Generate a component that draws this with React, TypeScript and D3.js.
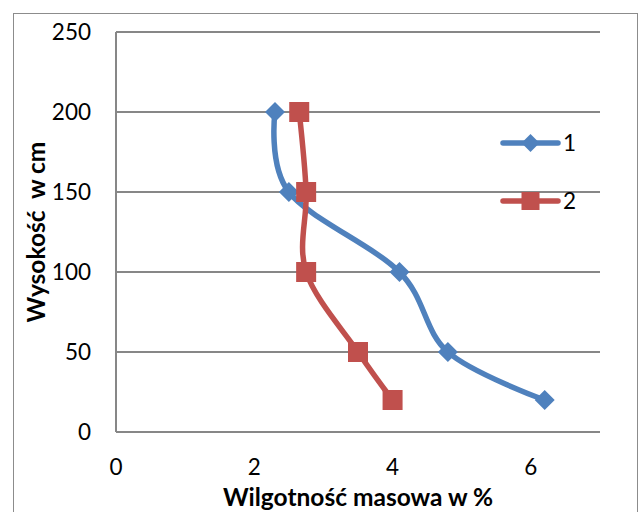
import React from "react";
import * as d3 from "d3";

const heights = [200, 150, 100, 50, 20];
const series1 = [2.3, 2.5, 4.1, 4.8, 6.2];
const series2 = [2.65, 2.75, 2.75, 3.5, 4.0];
const seriesNames = ["1", "2"];
const xTicks = [0, 2, 4, 6];
const yTicks = [0, 50, 100, 150, 200, 250];

const W = 641, H = 512;
const FONT = "Lato, 'Open Sans', sans-serif";
const BLUE = "#4F81BD";
const RED = "#C0504D";
const GRID = "#878787";

export default function App() {
  const x = d3.scaleLinear().domain([0, 7]).range([116, 600]);
  const y = d3.scaleLinear().domain([0, 250]).range([432, 32]);
  const line = d3
    .line<[number, number]>()
    .x((d) => x(d[0]))
    .y((d) => y(d[1]))
    .curve(d3.curveCardinal.tension(0));
  const s1: [number, number][] = series1.map((v, i) => [v, heights[i]]);
  const s2: [number, number][] = series2.map((v, i) => [v, heights[i]]);
  const diamond = (cx: number, cy: number, r: number) =>
    `M${cx},${cy - r}L${cx + r},${cy}L${cx},${cy + r}L${cx - r},${cy}Z`;

  return (
    <svg
      width={W}
      height={H}
      style={{ position: "absolute", left: 0, top: 0, background: "#fff" }}
      fontFamily={FONT}
    >
      <rect x={13.5} y={13.5} width={624} height={520} fill="#fff" stroke="#8c8c8c" strokeWidth={1} />
      {yTicks.map((t) => (
        <line key={"g" + t} x1={x(0)} x2={x(7)} y1={y(t)} y2={y(t)} stroke={GRID} strokeWidth={2} />
      ))}
      <line x1={x(0)} x2={x(0)} y1={y(250)} y2={y(0)} stroke={GRID} strokeWidth={2} />
      {yTicks.map((t) => (
        <text key={"yl" + t} x={91} y={y(t)} dy="0.36em" textAnchor="end" fontSize={22.5} fill="#000">
          {t}
        </text>
      ))}
      {xTicks.map((t) => (
        <text key={"xl" + t} x={x(t)} y={467} dy="0.36em" textAnchor="middle" fontSize={22.5} fill="#000">
          {t}
        </text>
      ))}
      <text x={358} y={497} dy="0.36em" textAnchor="middle" fontSize={24.5} fontWeight="bold" fill="#000">
        Wilgotność masowa w %
      </text>
      <text
        transform={`translate(36,232) rotate(-90)`}
        dy="0.36em"
        textAnchor="middle"
        fontSize={24.5}
        fontWeight="bold"
        fill="#000"
        style={{ whiteSpace: "pre" }}
      >
        {"Wysokość  w cm"}
      </text>
      <path d={line(s1) || ""} fill="none" stroke={BLUE} strokeWidth={5.5} strokeLinejoin="round" />
      <path d={line(s2) || ""} fill="none" stroke={RED} strokeWidth={5.5} strokeLinejoin="round" />
      {s1.map((d, i) => (
        <path key={"m1" + i} d={diamond(x(d[0]), y(d[1]), 10)} fill={BLUE} />
      ))}
      {s2.map((d, i) => (
        <rect key={"m2" + i} x={x(d[0]) - 10} y={y(d[1]) - 10} width={20} height={20} fill={RED} />
      ))}
      {/* legend */}
      <line x1={503} x2={558} y1={143} y2={143} stroke={BLUE} strokeWidth={5.5} strokeLinecap="round" />
      <path d={diamond(530.5, 143, 9)} fill={BLUE} />
      <text x={563} y={143} dy="0.36em" fontSize={22.5} fill="#000">{seriesNames[0]}</text>
      <line x1={503} x2={558} y1={201} y2={201} stroke={RED} strokeWidth={5.5} strokeLinecap="round" />
      <rect x={521.5} y={192} width={18} height={18} fill={RED} />
      <text x={563} y={201} dy="0.36em" fontSize={22.5} fill="#000">{seriesNames[1]}</text>
    </svg>
  );
}
